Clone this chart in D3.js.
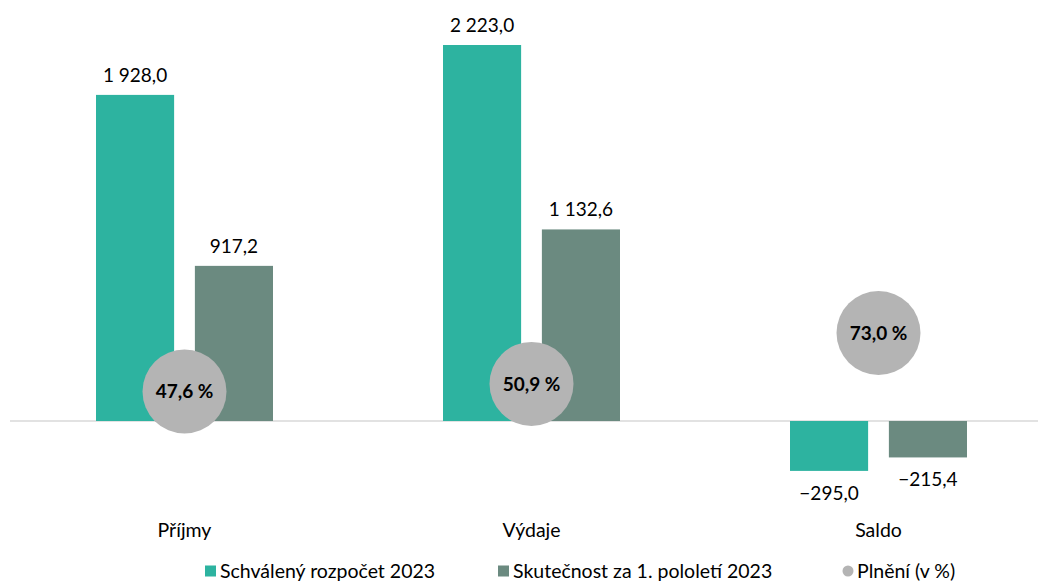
<!DOCTYPE html>
<html>
<head>
<meta charset="utf-8">
<script src="https://cdn.jsdelivr.net/npm/d3@7"></script>
<style>
  body { margin: 0; background: #fff; }
  svg text { font-family: Lato, "Open Sans", sans-serif; fill: #000; }
</style>
</head>
<body>
<div id="chart"></div>
<script>
// Data
const categories = ["Příjmy", "Výdaje", "Saldo"];
const seriesNames = ["Schválený rozpočet 2023", "Skutečnost za 1. pololetí 2023"];
const budget = [1928.0, 2223.0, -295.0];
const actual = [917.2, 1132.6, -215.4];
const fulfilment = [47.6, 50.9, 73.0];
const fulfilmentName = "Plnění (v %)";

const colors = ["#2db3a0", "#6b8a80"];
const circleColor = "#b4b4b4";

const W = 1038, H = 581;
const fmt = v => {
  const s = d3.format(",.1f")(Math.abs(v)).replace(/,/g, " ").replace(".", ",");
  return (v < 0 ? "\u2212" : "") + s;
};

const svg = d3.select("#chart").append("svg")
  .attr("width", W).attr("height", H);

// Scales
const x = d3.scaleBand().domain(categories).range([11, 1052]).paddingInner(0).paddingOuter(0);
const inner = d3.scaleBand().domain(seriesNames).range([85, 347 - 85]).paddingInner(0.21);
const y = d3.scaleLinear().domain([0, 2223]).range([421, 45]);
const y2 = d3.scaleLinear().domain([0, 100]).range([501.1, 270.8]);

// zero line
svg.append("line")
  .attr("x1", 10).attr("x2", W)
  .attr("y1", y(0)).attr("y2", y(0))
  .attr("stroke", "#d9d9d9").attr("stroke-width", 1.5);

const series = [budget, actual];
series.forEach((vals, si) => {
  const g = svg.append("g");
  g.selectAll("rect").data(vals).enter().append("rect")
    .attr("x", (d, i) => x(categories[i]) + inner(seriesNames[si]))
    .attr("width", inner.bandwidth())
    .attr("y", d => Math.min(y(d), y(0)))
    .attr("height", d => Math.abs(y(d) - y(0)))
    .attr("fill", colors[si]);
  g.selectAll("text").data(vals).enter().append("text")
    .attr("x", (d, i) => x(categories[i]) + inner(seriesNames[si]) + inner.bandwidth() / 2)
    .attr("y", d => d >= 0 ? y(d) - 13 : y(d) + 29)
    .attr("text-anchor", "middle")
    .attr("font-size", 19)
    .text(d => fmt(d));
});

// fulfilment circles
const cg = svg.append("g");
cg.selectAll("circle").data(fulfilment).enter().append("circle")
  .attr("cx", (d, i) => x(categories[i]) + x.bandwidth() / 2)
  .attr("cy", d => y2(d))
  .attr("r", 42)
  .attr("fill", circleColor);
cg.selectAll("text").data(fulfilment).enter().append("text")
  .attr("x", (d, i) => x(categories[i]) + x.bandwidth() / 2)
  .attr("y", d => y2(d) + 7)
  .attr("text-anchor", "middle")
  .attr("font-size", 19)
  .attr("font-weight", "bold")
  .text(d => fmt(d) + " %");

// category labels
svg.append("g").selectAll("text").data(categories).enter().append("text")
  .attr("x", d => x(d) + x.bandwidth() / 2)
  .attr("y", 537)
  .attr("text-anchor", "middle")
  .attr("font-size", 19.5)
  .text(d => d);

// legend
const legendItems = [
  { name: seriesNames[0], color: colors[0], shape: "rect", x: 205 },
  { name: seriesNames[1], color: colors[1], shape: "rect", x: 498 },
  { name: fulfilmentName, color: circleColor, shape: "circle", x: 842 }
];
const lg = svg.append("g").selectAll("g").data(legendItems).enter().append("g")
  .attr("transform", d => `translate(${d.x},571)`);
lg.filter(d => d.shape === "rect").append("rect")
  .attr("x", 0).attr("y", -5.5).attr("width", 11).attr("height", 11)
  .attr("fill", d => d.color);
lg.filter(d => d.shape === "circle").append("circle")
  .attr("cx", 6).attr("cy", 0).attr("r", 5.5)
  .attr("fill", d => d.color);
lg.append("text")
  .attr("x", 15).attr("y", 7)
  .attr("font-size", 19.5)
  .text(d => d.name);
</script>
</body>
</html>
